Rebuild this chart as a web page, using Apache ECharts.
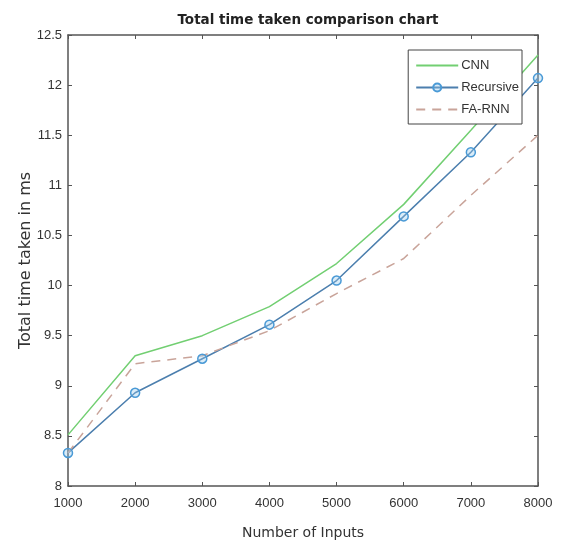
<!DOCTYPE html>
<html>
<head>
<meta charset="utf-8">
<script src="https://cdn.jsdelivr.net/npm/echarts@6/dist/echarts.min.js"></script>
<style>
  html, body { margin: 0; padding: 0; background: #fff; }
  #chart { width: 588px; height: 546px; }
</style>
</head>
<body>
<div id="chart"></div>
<script>
const inputs = [1000, 2000, 3000, 4000, 5000, 6000, 7000, 8000];
const cnn = [8.51, 9.3, 9.5, 9.79, 10.22, 10.81, 11.55, 12.3];
const recursive = [8.33, 8.93, 9.27, 9.61, 10.05, 10.69, 11.33, 12.07];
const faRnn = [8.33, 9.22, 9.3, 9.55, 9.92, 10.27, 10.9, 11.5];

const chartInstance = echarts.init(document.getElementById('chart'));

const axisColor = '#555';
const labelStyle = { color: '#333', fontSize: 13, fontFamily: 'Liberation Sans', margin: 11 };

function pairs(values) {
  return inputs.map((x, i) => [x, values[i]]);
}

const option = {
  animation: false,
  title: {
    text: 'Total time taken comparison chart',
    left: 303,
    textAlign: 'center',
    top: 8,
    textStyle: { fontSize: 13.5, fontWeight: 'bold', color: '#222', fontFamily: 'DejaVu Sans' }
  },
  legend: {
    right: 66,
    top: 50,
    orient: 'vertical',
    itemWidth: 42,
    itemHeight: 10,
    itemGap: 9,
    padding: [9, 3, 8, 7],
    borderColor: '#444',
    borderWidth: 1,
    backgroundColor: '#fff',
    textStyle: { color: '#333', fontSize: 13, fontFamily: 'Liberation Sans', padding: [0, 0, 0, -2] },
    data: [
      { name: 'CNN', itemStyle: { opacity: 0 } },
      { name: 'Recursive' },
      { name: 'FA-RNN', itemStyle: { opacity: 0 } }
    ]
  },
  grid: {
    left: 68,
    right: 50,
    top: 35,
    bottom: 60
  },
  xAxis: [
    {
      type: 'value',
      min: 1000,
      max: 8000,
      interval: 1000,
      name: 'Number of Inputs',
      nameLocation: 'middle',
      nameGap: 40,
      nameTextStyle: { color: '#333', fontSize: 14, fontFamily: 'DejaVu Sans' },
      axisLine: { show: true, lineStyle: { color: axisColor, width: 1.5 } },
      axisTick: { show: true, inside: true, length: 4, lineStyle: { color: axisColor } },
      axisLabel: Object.assign({ formatter: v => String(v) }, labelStyle),
      splitLine: { show: false }
    },
    {
      type: 'value',
      position: 'top',
      min: 1000,
      max: 8000,
      interval: 1000,
      axisLine: { show: true, lineStyle: { color: axisColor, width: 1.5 } },
      axisTick: { show: true, inside: true, length: 4, lineStyle: { color: axisColor } },
      axisLabel: { show: false },
      splitLine: { show: false }
    }
  ],
  yAxis: [
    {
      type: 'value',
      min: 8,
      max: 12.5,
      interval: 0.5,
      name: 'Total time taken in ms',
      nameLocation: 'middle',
      nameGap: 34,
      nameMoveOverlap: false,
      nameTextStyle: { color: '#333', fontSize: 16, fontFamily: 'DejaVu Sans' },
      axisLine: { show: true, lineStyle: { color: axisColor, width: 1.5 } },
      axisTick: { show: true, inside: true, length: 4, lineStyle: { color: axisColor } },
      axisLabel: Object.assign({}, labelStyle, { margin: 6 }),
      splitLine: { show: false }
    },
    {
      type: 'value',
      position: 'right',
      min: 8,
      max: 12.5,
      interval: 0.5,
      axisLine: { show: true, lineStyle: { color: axisColor, width: 1.5 } },
      axisTick: { show: true, inside: true, length: 4, lineStyle: { color: axisColor } },
      axisLabel: { show: false },
      splitLine: { show: false }
    }
  ],
  series: [
    {
      name: 'CNN',
      type: 'line',
      data: pairs(cnn),
      symbol: 'none',
      color: '#72cf72',
      lineStyle: { width: 1.5, color: '#72cf72' }
    },
    {
      name: 'Recursive',
      type: 'line',
      data: pairs(recursive),
      symbol: 'circle',
      symbolSize: 9,
      color: '#4c7fae',
      itemStyle: { color: 'rgba(150,200,235,0.35)', borderColor: '#4a9ad6', borderWidth: 1.5 },
      lineStyle: { width: 1.5, color: '#4c7fae' }
    },
    {
      name: 'FA-RNN',
      type: 'line',
      data: pairs(faRnn),
      symbol: 'none',
      color: '#c9a49a',
      lineStyle: { width: 1.5, color: '#c9a49a', type: [9, 7] }
    }
  ]
};

chartInstance.setOption(option);
</script>
</body>
</html>
